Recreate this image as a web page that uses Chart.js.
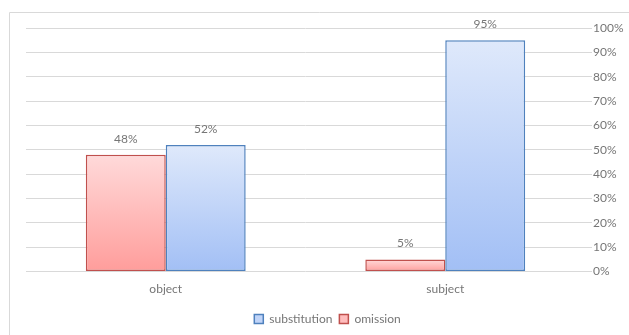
<!DOCTYPE html>
<html>
<head>
<meta charset="utf-8">
<script src="https://cdn.jsdelivr.net/npm/chart.js@4/dist/chart.umd.min.js"></script>
<style>
  html, body { margin: 0; padding: 0; background: #fff; }
  #wrap { width: 629px; height: 335px; position: relative; }
</style>
</head>
<body>
<div id="wrap"><canvas id="c"></canvas></div>
<script>
const categories = ['object', 'subject'];
const omission = [48, 5];
const substitution = [52, 95];
const tickValues = [0, 10, 20, 30, 40, 50, 60, 70, 80, 90, 100];

const FONT = 'Lato, "Open Sans", sans-serif';
const TEXT = '#767676';

// Vertical gradient spanning each bar from its top to the baseline
function barGradient(topColor, bottomColor, fallback) {
  return function (ctx) {
    const chart = ctx.chart;
    if (!chart.chartArea || ctx.type !== 'data') return fallback;
    const y = chart.scales.y;
    const top = y.getPixelForValue(ctx.raw);
    const base = y.getPixelForValue(0);
    if (!isFinite(top) || Math.abs(base - top) < 1) return fallback;
    const g = chart.ctx.createLinearGradient(0, top, 0, base);
    g.addColorStop(0, topColor);
    g.addColorStop(1, bottomColor);
    return g;
  };
}

// Frame line along the left and top edges
const framePlugin = {
  id: 'frame',
  beforeDraw(chart) {
    const c = chart.ctx;
    c.save();
    c.strokeStyle = '#d9d9d9';
    c.lineWidth = 1;
    c.beginPath();
    c.moveTo(9.5, chart.height);
    c.lineTo(9.5, 12.5);
    c.lineTo(chart.width, 12.5);
    c.stroke();
    c.restore();
  }
};

// Percentage labels above each bar
const valueLabels = {
  id: 'valueLabels',
  afterDatasetsDraw(chart) {
    const c = chart.ctx;
    c.save();
    c.font = '12px ' + FONT;
    c.fillStyle = TEXT;
    c.textAlign = 'center';
    c.textBaseline = 'middle';
    chart.data.datasets.forEach((ds, i) => {
      chart.getDatasetMeta(i).data.forEach((bar, j) => {
        c.fillText(ds.data[j] + '%', bar.x, bar.y - 16);
      });
    });
    c.restore();
  }
};

new Chart(document.getElementById('c'), {
  type: 'bar',
  data: {
    labels: categories,
    datasets: [
      {
        label: 'omission',
        data: omission,
        backgroundColor: barGradient('#ffdada', '#ff9d9b', '#ffbcbc'),
        borderColor: '#c0504d',
        borderWidth: 1.5,
        borderSkipped: false,
        categoryPercentage: 0.572,
        barPercentage: 1.0
      },
      {
        label: 'substitution',
        data: substitution,
        backgroundColor: barGradient('#dfe9fb', '#a2bff5', '#c0d4f8'),
        borderColor: '#4f81bd',
        borderWidth: 1.5,
        borderSkipped: false,
        categoryPercentage: 0.572,
        barPercentage: 1.0
      }
    ]
  },
  options: {
    responsive: true,
    maintainAspectRatio: false,
    animation: false,
    layout: { padding: { left: 26, top: 28, right: 0, bottom: 0 } },
    plugins: {
      legend: {
        position: 'bottom',
        reverse: true,
        labels: {
          boxWidth: 9,
          boxHeight: 9,
          padding: 7,
          color: TEXT,
          font: { family: FONT, size: 12 },
          generateLabels(chart) {
            return chart.data.datasets.map((ds, i) => ({
              text: ds.label,
              fillStyle: i === 0 ? '#ffbcbc' : '#c0d4f8',
              strokeStyle: ds.borderColor,
              fontColor: TEXT,
              lineWidth: 1.5,
              datasetIndex: i,
              hidden: false
            }));
          }
        }
      },
      tooltip: { enabled: false }
    },
    scales: {
      x: {
        grid: { display: false },
        border: { display: false },
        afterFit(scale) { scale.height = scale.height + 8; },
        ticks: { color: TEXT, padding: 2, font: { family: FONT, size: 12 } }
      },
      y: {
        position: 'right',
        min: 0,
        max: 100,
        afterBuildTicks(scale) { scale.ticks = tickValues.map(v => ({ value: v })); },
        afterFit(scale) { scale.width = 44; },
        grid: { color: '#d9d9d9', lineWidth: 1, tickLength: 7 },
        border: { display: false },
        ticks: {
          color: TEXT,
          padding: 1,
          font: { family: FONT, size: 12 },
          callback: v => v + '%'
        }
      }
    }
  },
  plugins: [framePlugin, valueLabels]
});
</script>
</body>
</html>
